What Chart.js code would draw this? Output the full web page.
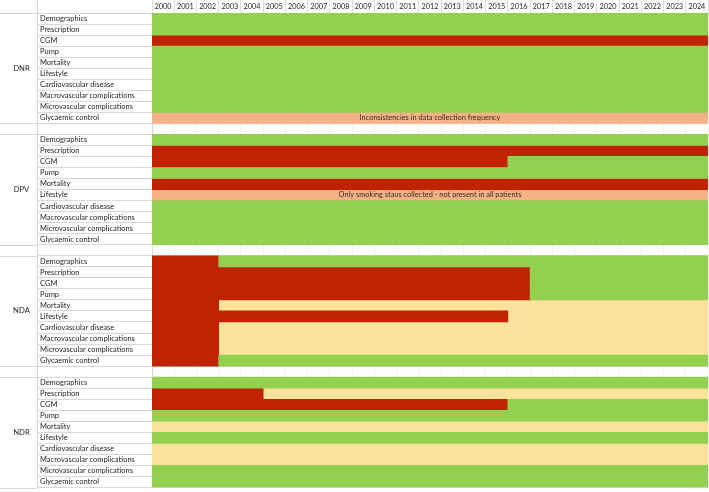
<!DOCTYPE html>
<html><head><meta charset="utf-8">
<script src="https://cdn.jsdelivr.net/npm/chart.js@4.4.1/dist/chart.umd.min.js"></script>
<style>html,body{margin:0;padding:0;background:#fff}</style>
</head><body>
<canvas id="c" width="709" height="492"></canvas>
<script>
const years = ['2000','2001','2002','2003','2004','2005','2006','2007','2008','2009','2010','2011','2012','2013','2014','2015','2016','2017','2018','2019','2020','2021','2022','2023','2024'];
const variables = ['Demographics','Prescription','CGM','Pump','Mortality','Lifestyle','Cardiovascular disease','Macrovascular complications','Microvascular complications','Glycaemic control'];
const registries = ['DNR','DPV','NDA','NDR'];

// status codes: A = available, N = not available, P = partially available, I = available with limitations
// each variable row: list of [status, firstYear, lastYear]
const DNR = [
  [['A',2000,2024]],
  [['A',2000,2024]],
  [['N',2000,2024]],
  [['A',2000,2024]],
  [['A',2000,2024]],
  [['A',2000,2024]],
  [['A',2000,2024]],
  [['A',2000,2024]],
  [['A',2000,2024]],
  [['I',2000,2024]]
];
const DPV = [
  [['A',2000,2024]],
  [['N',2000,2024]],
  [['N',2000,2015],['A',2016,2024]],
  [['A',2000,2024]],
  [['N',2000,2024]],
  [['I',2000,2024]],
  [['A',2000,2024]],
  [['A',2000,2024]],
  [['A',2000,2024]],
  [['A',2000,2024]]
];
const NDA = [
  [['N',2000,2002],['A',2003,2024]],
  [['N',2000,2016],['A',2017,2024]],
  [['N',2000,2016],['A',2017,2024]],
  [['N',2000,2016],['A',2017,2024]],
  [['N',2000,2002],['P',2003,2024]],
  [['N',2000,2015],['P',2016,2024]],
  [['N',2000,2002],['P',2003,2024]],
  [['N',2000,2002],['P',2003,2024]],
  [['N',2000,2002],['P',2003,2024]],
  [['N',2000,2002],['A',2003,2024]]
];
const NDR = [
  [['A',2000,2024]],
  [['N',2000,2004],['P',2005,2024]],
  [['N',2000,2015],['A',2016,2024]],
  [['A',2000,2024]],
  [['P',2000,2024]],
  [['A',2000,2024]],
  [['P',2000,2024]],
  [['P',2000,2024]],
  [['A',2000,2024]],
  [['A',2000,2024]]
];
const noteRows = ['DNR|Glycaemic control','DPV|Lifestyle'];
const noteTexts = ['Inconsistencies in data collection frequency','Only smoking staus collected - not present in all patients'];

const statusKeys = ['A','N','P','I'];
const statusNames = ['Available','Not available','Partially available','Available with limitations'];

// ---- styles ----
const statusColors = {A:'#92D050', N:'#C12200', P:'#FCE29B', I:'#F5B286'};
const FONT = 'Lato, "Liberation Sans", sans-serif';
const textColor = '#262626';

const tables = {DNR, DPV, NDA, NDR};
const rows = [];
registries.forEach((r,i)=>{
  if(i>0) rows.push('gap'+i);
  variables.forEach(v=>rows.push(r+'|'+v));
});

const datasets = statusKeys.map((s,si)=>{
  const data = [];
  registries.forEach(r=>{
    tables[r].forEach((segs,vi)=>{
      segs.forEach(seg=>{
        if(seg[0]===s) data.push({x:[seg[1], seg[2]+1], y:r+'|'+variables[vi]});
      });
    });
  });
  return {
    label: statusNames[si], data,
    backgroundColor: statusColors[s], borderWidth:0, borderSkipped:false,
    xAxisID:'x', yAxisID:'y', grouped:false,
    barPercentage:1, categoryPercentage:1
  };
});

const registryPlugin = {
  id:'registryColumn',
  afterDraw(chart){
    const ys = chart.scales.y, area = chart.chartArea, ctx = chart.ctx;
    const edge = area.left - ys.options.grid.tickLength;
    const half = (ys.getPixelForValue(1) - ys.getPixelForValue(0))/2;
    ctx.save();
    ctx.strokeStyle = '#d9d9d9'; ctx.lineWidth = 1;
    ctx.beginPath();
    ctx.moveTo(0, Math.round(area.top)+0.5); ctx.lineTo(edge, Math.round(area.top)+0.5);
    ctx.moveTo(Math.round(edge)+0.5, 0); ctx.lineTo(Math.round(edge)+0.5, area.bottom);
    ctx.stroke();
    ctx.font = '7.7px ' + FONT;
    ctx.fillStyle = textColor;
    ctx.textAlign = 'center'; ctx.textBaseline = 'middle';
    registries.forEach(r=>{
      const top = ys.getPixelForValue(rows.indexOf(r+'|'+variables[0])) - half;
      const bot = ys.getPixelForValue(rows.indexOf(r+'|'+variables[variables.length-1])) + half;
      ctx.beginPath();
      ctx.moveTo(0, Math.round(top)+0.5); ctx.lineTo(edge, Math.round(top)+0.5);
      ctx.moveTo(0, Math.round(bot)+0.5); ctx.lineTo(edge, Math.round(bot)+0.5);
      ctx.stroke();
      ctx.fillText(r, 21.5, (top+bot)/2);
    });
    ctx.fillStyle = '#3b2a1e';
    ctx.font = '7.4px ' + FONT;
    noteRows.forEach((k,i)=>{
      ctx.fillText(noteTexts[i], (area.left+area.right)/2, ys.getPixelForValue(rows.indexOf(k)));
    });
    ctx.restore();
  }
};

new Chart(document.getElementById('c'), {
  type:'bar',
  data:{ labels: rows, datasets },
  options:{
    indexAxis:'y',
    responsive:false,
    devicePixelRatio:1,
    animation:false,
    layout:{padding:{left:40, right:1, top:0, bottom:3}},
    plugins:{legend:{display:false}, tooltip:{enabled:false}},
    scales:{
      x:{type:'linear', min:2000, max:2025, display:false},
      x2:{
        type:'category', axis:'x', position:'top', labels: years,
        offset:true,
        grid:{offset:true, color:'#f1f1f1', tickColor:'#dcdcdc', tickLength:13, drawOnChartArea:true},
        border:{display:true, color:'#d9d9d9'},
        ticks:{font:{family:FONT, size:7.3}, color:textColor, padding:-11, maxRotation:0, autoSkip:false},
        afterFit(s){ s.height = 13; }
      },
      y:{
        type:'category', labels: rows, offset:true,
        grid:{offset:true, color:'#d9d9d9', tickLength:115},
        border:{display:true, color:'#d9d9d9'},
        ticks:{
          crossAlign:'far', autoSkip:false, padding:0,
          font:{family:FONT, size:7.5}, color:textColor,
          callback(v){ const l = this.getLabelForValue(v); return l.includes('|') ? l.split('|')[1] : ''; }
        },
        afterFit(s){ s.width = 112; }
      }
    }
  },
  plugins:[registryPlugin]
});
</script>
</body></html>
